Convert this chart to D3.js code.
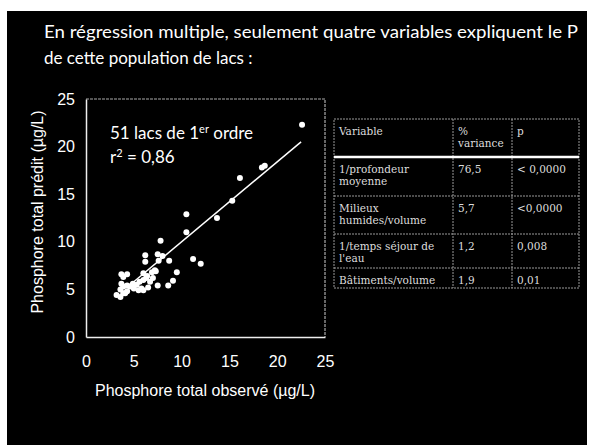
<!DOCTYPE html>
<meta charset="utf-8">
<script src="https://d3js.org/d3.v7.min.js"></script>
<style>
  body { margin: 0; background: #fff; }
  svg { display: block; }
</style>
<body>
<div id="viz"></div>
<script>

// data
const titleLines = ["En régression multiple, seulement quatre variables expliquent le P",
                    "de cette population de lacs :"];
const observed = [22.6, 18.7, 18.4, 16.1, 15.3, 13.7, 10.5, 10.5, 7.8, 11.2, 12.0, 6.2, 6.2, 7.5, 8.0, 8.7,
                  9.5, 9.1, 8.6, 7.5, 7.2, 6.9, 6.0, 6.4, 6.7, 6.0, 5.6, 5.3, 4.9, 4.6, 4.3, 3.7, 3.9,
                  3.7, 4.3, 3.2, 3.6, 3.9, 4.3, 5.5, 5.8, 6.0, 6.5, 7.0, 7.3, 3.6, 4.1, 5.0, 6.3, 7.6, 3.9];
const predicted = [22.3, 18.0, 17.8, 16.7, 14.3, 12.5, 12.9, 11.0, 10.1, 8.2, 7.7, 8.6, 7.9, 8.7, 8.5, 8.0,
                   6.8, 5.9, 5.4, 5.4, 7.0, 6.8, 6.7, 6.4, 5.8, 6.0, 5.8, 5.5, 5.6, 5.3, 6.6, 6.6, 6.3,
                   5.6, 5.4, 4.4, 4.2, 4.6, 4.8, 4.9, 5.1, 4.9, 5.2, 6.2, 6.9, 5.0, 4.6, 5.1, 6.2, 8.0, 5.3];
const fitX = [5, 22.5];
const fitY = [5.8, 20.5];
const ticks = [0, 5, 10, 15, 20, 25];

const tableHeader = [["Variable"], ["%", "variance"], ["p"]];
const variables = [["1/profondeur", "moyenne"], ["Milieux", "humides/volume"], ["1/temps séjour de", "l'eau"], ["Bâtiments/volume"]];
const variance = ["76,5", "5,7", "1,2", "1,9"];
const pValues = ["< 0,0000", "<0,0000", "0,008", "0,01"];

const W = 594, H = 445;
const svg = d3.select("#viz").append("svg").attr("width", W).attr("height", H);

// black slide
svg.append("rect").attr("x", 7).attr("y", 11).attr("width", 580).attr("height", 440).attr("fill", "#000");

// title
svg.selectAll(".title").data(titleLines).join("text")
  .attr("x", 44).attr("y", (d, i) => 38 + i * 26)
  .attr("fill", "#fff").style("font-family", "Lato, 'Open Sans', sans-serif").style("font-size", "17px")
  .attr("textLength", (d, i) => i == 0 ? 534 : null)
  .attr("lengthAdjust", "spacingAndGlyphs")
  .text(d => d);

// scatter
const x = d3.scaleLinear().domain([0, 25]).range([86, 325]);
const y = d3.scaleLinear().domain([0, 25]).range([337, 99]);

// frame (top/right)
svg.append("path")
  .attr("d", `M${x(0)},${y(25)}H${x(25)}V${y(0)}`)
  .attr("fill", "none").attr("stroke", "#aaa").attr("stroke-width", 1.2).attr("stroke-dasharray", "3,1");

const font = "'Liberation Sans', Arial, sans-serif";

const xAxis = svg.append("g").attr("transform", `translate(0,${y(0)})`)
  .call(d3.axisBottom(x).tickValues(ticks).tickSize(0).tickPadding(19));
const yAxis = svg.append("g").attr("transform", `translate(${x(0)},0)`)
  .call(d3.axisLeft(y).tickValues(ticks).tickSize(0).tickPadding(11));
[xAxis, yAxis].forEach(a => {
  a.select(".domain").attr("stroke", "#eee").attr("stroke-width", 1.5);
  a.selectAll("text").attr("fill", "#fff").style("font-family", font).style("font-size", "16px");
});

svg.append("text").attr("x", 205).attr("y", 396).attr("text-anchor", "middle")
  .attr("fill", "#fff").style("font-family", font).style("font-size", "16px")
  .text("Phosphore total observé (µg/L)");
svg.append("text").attr("transform", "translate(43,212) rotate(-90)").attr("text-anchor", "middle")
  .attr("fill", "#fff").style("font-family", font).style("font-size", "16px")
  .text("Phosphore total prédit (µg/L)");

// regression line
svg.append("line")
  .attr("x1", x(fitX[0])).attr("y1", y(fitY[0]))
  .attr("x2", x(fitX[1])).attr("y2", y(fitY[1]))
  .attr("stroke", "#fff").attr("stroke-width", 1.5);

svg.selectAll(".pt").data(observed).join("circle")
  .attr("cx", d => x(d)).attr("cy", (d, i) => y(predicted[i])).attr("r", 3)
  .attr("fill", "#fff");

// annotation
const note = svg.append("g").attr("fill", "#fff")
  .style("font-family", "Lato, 'Open Sans', sans-serif").style("font-size", "17px");
const t1 = note.append("text").attr("x", 110).attr("y", 139);
t1.append("tspan").text("51 lacs de 1");
t1.append("tspan").text("er").attr("dy", -6).style("font-size", "11px");
t1.append("tspan").text(" ordre").attr("dy", 6);
const t2 = note.append("text").attr("x", 110).attr("y", 163);
t2.append("tspan").text("r");
t2.append("tspan").text("2").attr("dy", -6).style("font-size", "11px");
t2.append("tspan").text(" = 0,86").attr("dy", 6);

// table
const colX = [334, 453, 512, 579];
const rowY = [119, 157, 196, 234, 268, 288];
const tbl = svg.append("g");
tbl.append("rect").attr("x", colX[0]).attr("y", rowY[0]).attr("width", colX[3] - colX[0]).attr("height", rowY[5] - rowY[0])
  .attr("fill", "none").attr("stroke", "#999").attr("stroke-dasharray", "2,1");
colX.slice(1, 3).forEach(cx => tbl.append("line").attr("x1", cx).attr("x2", cx).attr("y1", rowY[0]).attr("y2", rowY[5])
  .attr("stroke", "#999").attr("stroke-dasharray", "2,1"));
rowY.slice(2, 5).forEach(ry => tbl.append("line").attr("x1", colX[0]).attr("x2", colX[3]).attr("y1", ry).attr("y2", ry)
  .attr("stroke", "#999").attr("stroke-dasharray", "2,1"));
tbl.append("line").attr("x1", colX[0]).attr("x2", colX[3]).attr("y1", rowY[1]).attr("y2", rowY[1])
  .attr("stroke", "#fff").attr("stroke-width", 2.5);

const rows = [tableHeader].concat(variables.map((v, i) => [v, [variance[i]], [pValues[i]]]));
rows.forEach((row, r) => {
  row.forEach((cell, c) => {
    cell.forEach((line, k) => {
      tbl.append("text").attr("x", colX[c] + 5).attr("y", rowY[r] + 16 + k * 12)
        .attr("fill", "#ddd").style("font-family", "'DejaVu Serif', serif").style("font-size", "10.5px")
        .text(line);
    });
  });
});

</script>
</body>
